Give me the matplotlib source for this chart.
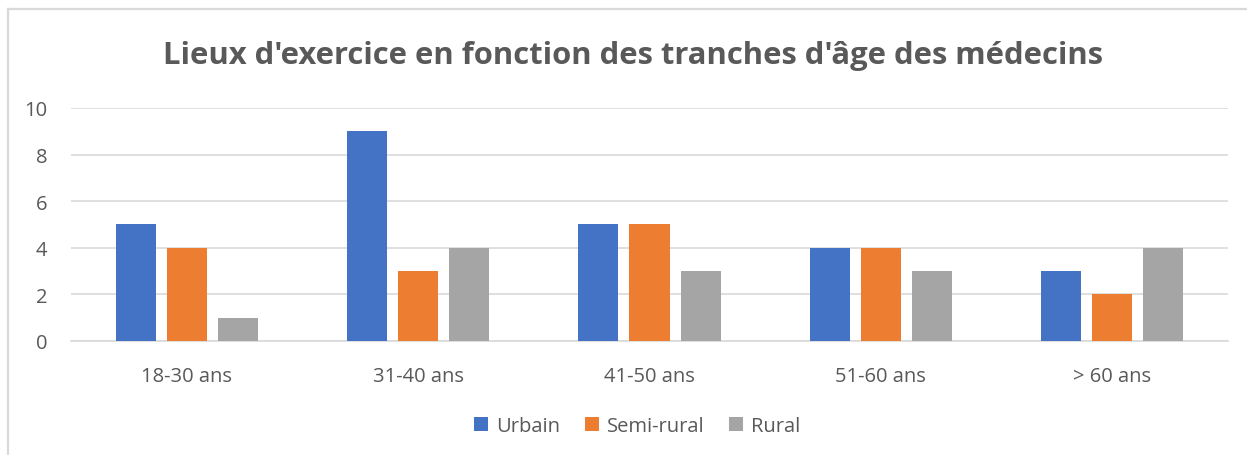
import numpy as np
import matplotlib.pyplot as plt
from matplotlib.lines import Line2D

# Données du graphique
tranches = ['18-30 ans', '31-40 ans', '41-50 ans', '51-60 ans', '> 60 ans']
urbain = [5, 9, 5, 4, 3]
semi_rural = [4, 3, 5, 4, 2]
rural = [1, 4, 3, 3, 4]

series = [('Urbain', urbain, '#4472C4'),
          ('Semi-rural', semi_rural, '#ED7D31'),
          ('Rural', rural, '#A5A5A5')]

plt.rcParams['font.family'] = ['Open Sans', 'DejaVu Sans']
gris = '#595959'

fig = plt.figure(figsize=(12.47, 4.56), dpi=100)
ax = fig.add_axes([71 / 1247, 0.25, 1157 / 1247, 0.511])

x = np.arange(len(tranches))
largeur = 0.173
pas = 0.221
for i, (nom, vals, coul) in enumerate(series):
    ax.bar(x + (i - 1) * pas, vals, width=largeur, color=coul, label=nom, zorder=3)

ax.set_xlim(-0.5, len(tranches) - 0.5)
ax.set_ylim(0, 10)
ax.set_yticks(range(0, 11, 2))
ax.set_xticks(x)
ax.set_xticklabels(tranches)
ax.tick_params(axis='both', length=0, labelsize=14.5, colors=gris)
ax.tick_params(axis='x', pad=18)
ax.tick_params(axis='y', pad=17)
ax.grid(axis='y', color='#D9D9D9', linewidth=1.2, zorder=0)
for s in ['top', 'right', 'left']:
    ax.spines[s].set_visible(False)
ax.spines['bottom'].set_color('#D9D9D9')
ax.spines['bottom'].set_linewidth(1.2)

fig.text(0.5076, 0.860, "Lieux d'exercice en fonction des tranches d'âge des médecins",
         ha='center', va='baseline', fontsize=22.3, fontweight='bold', color=gris)

fig.legend(loc='center', bbox_to_anchor=(0.511, 0.064), ncol=3, frameon=False,
           fontsize=14.5, labelcolor=gris, handlelength=0.7, handleheight=0.7,
           handletextpad=0.4, columnspacing=1.2)

# bordure du graphique (gauche et haut seulement visibles)
bx, by = 7.5 / 1247, 1 - 10 / 456
fig.add_artist(Line2D([bx, bx], [0, by], transform=fig.transFigure,
                      color='#D9D9D9', linewidth=1.6))
fig.add_artist(Line2D([bx, 1], [by, by], transform=fig.transFigure,
                      color='#D9D9D9', linewidth=1.6))

fig.savefig('out.png', dpi=100)
